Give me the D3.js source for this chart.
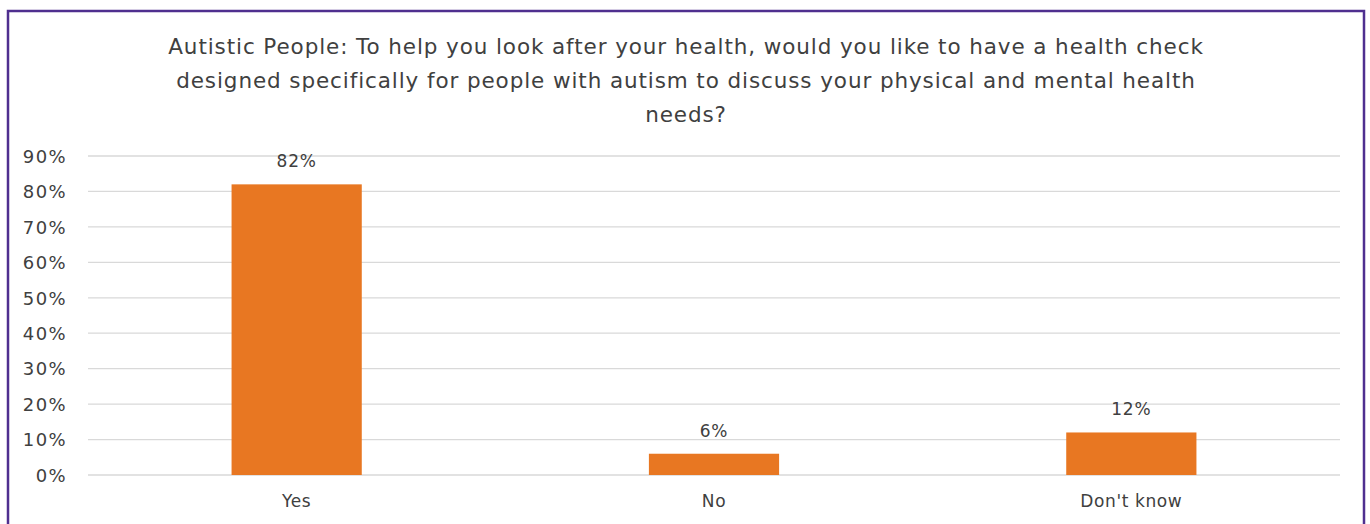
<!DOCTYPE html>
<html><head><meta charset="utf-8">
<script src="https://cdn.jsdelivr.net/npm/d3@7"></script>
<style>body{margin:0;background:#fff;}svg{display:block;}</style>
</head><body>
<svg id="c" width="1370" height="524"></svg>
<script>
const categories = ["Yes", "No", "Don't know"];
const values = [82, 6, 12];
const valueLabels = ["82%", "6%", "12%"];
const tickValues = [0, 10, 20, 30, 40, 50, 60, 70, 80, 90];
const titleLines = [
  "Autistic People: To help you look after your health, would you like to have a health check",
  "designed specifically for people with autism to discuss your physical and mental health",
  "needs?"
];

const W = 1370, H = 524;
const svg = d3.select("#c");
const font = "'DejaVu Sans', sans-serif";
const textColor = "#404040";

svg.append("rect").attr("x", 8).attr("y", 11).attr("width", 1356).attr("height", 530)
  .attr("fill", "#fff").attr("stroke", "#4f2f8f").attr("stroke-width", 2.5);

const plot = {left: 88, right: 1340, top: 156, bottom: 475};
const x = d3.scaleBand().domain(categories).range([plot.left, plot.right]).padding(0);
const y = d3.scaleLinear().domain([0, 90]).range([plot.bottom, plot.top]);

// gridlines
svg.append("g").selectAll("line").data(tickValues).join("line")
  .attr("x1", plot.left).attr("x2", plot.right)
  .attr("y1", d => y(d)).attr("y2", d => y(d))
  .attr("stroke", "#d9d9d9").attr("stroke-width", 1.3);

// y axis labels
const yAxis = d3.axisLeft(y).tickValues(tickValues).tickFormat(d => d + "%").tickSize(0).tickPadding(0);
const yg = svg.append("g").attr("transform", `translate(${67},0)`).call(yAxis);
yg.select(".domain").remove();
yg.selectAll("text").attr("font-family", font).attr("font-size", 18).attr("letter-spacing", 1.4).attr("fill", textColor).attr("dy", "0.35em");

// bars
const barW = x.bandwidth() * 0.312;
svg.append("g").selectAll("rect").data(values).join("rect")
  .attr("x", (d, i) => x(categories[i]) + x.bandwidth() / 2 - barW / 2)
  .attr("y", d => y(d))
  .attr("width", barW)
  .attr("height", d => y(0) - y(d))
  .attr("fill", "#e87722");

// value labels
svg.append("g").selectAll("text").data(values).join("text")
  .attr("x", (d, i) => x(categories[i]) + x.bandwidth() / 2)
  .attr("y", d => y(d) - 23)
  .attr("dy", "0.35em")
  .attr("text-anchor", "middle")
  .attr("font-family", font).attr("font-size", 17).attr("letter-spacing", 0.8).attr("fill", textColor)
  .text((d, i) => valueLabels[i]);

// x axis labels
const xAxis = d3.axisBottom(x).tickSize(0).tickPadding(0);
const xg = svg.append("g").attr("transform", `translate(0,${501})`).call(xAxis);
xg.select(".domain").remove();
xg.selectAll("text").attr("font-family", font).attr("font-size", 17).attr("letter-spacing", 0.6).attr("fill", textColor).attr("dy", "0.35em").attr("y", 0);

// title
svg.append("g").selectAll("text").data(titleLines).join("text")
  .attr("x", 686).attr("y", (d, i) => 46 + i * 34)
  .attr("dy", "0.35em").attr("text-anchor", "middle")
  .attr("font-family", font).attr("font-size", 21.5).attr("letter-spacing", 0.9).attr("fill", textColor)
  .text(d => d);
</script>
</body></html>
